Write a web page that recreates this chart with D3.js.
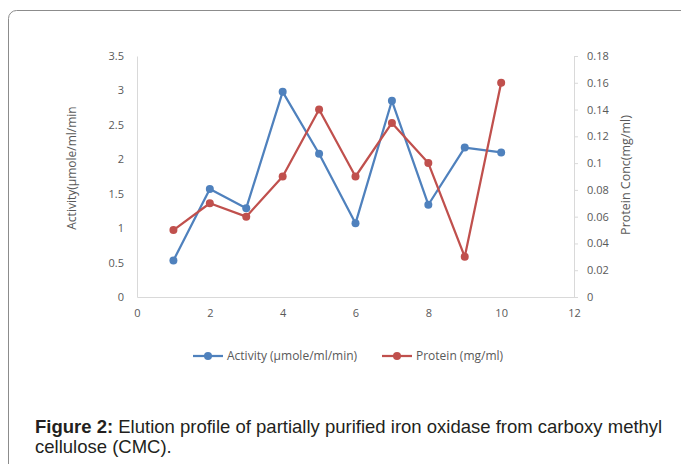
<!DOCTYPE html>
<html>
<head>
<meta charset="utf-8">
<script src="https://cdn.jsdelivr.net/npm/d3@7"></script>
<style>
  body { margin: 0; background: #fff; }
  svg { display: block; }
</style>
</head>
<body>
<svg width="681" height="464"></svg>
<script>
// fractions
const fractions = [1, 2, 3, 4, 5, 6, 7, 8, 9, 10];
const activity = [0.53, 1.57, 1.29, 2.98, 2.08, 1.07, 2.85, 1.34, 2.17, 2.10];
const protein = [0.05, 0.07, 0.06, 0.09, 0.14, 0.09, 0.13, 0.10, 0.03, 0.16];
const xTicks = [0, 2, 4, 6, 8, 10, 12];
const leftTicks = [0, 0.5, 1, 1.5, 2, 2.5, 3, 3.5];
const rightTicks = [0, 0.02, 0.04, 0.06, 0.08, 0.1, 0.12, 0.14, 0.16, 0.18];

const blue = "#4f81bd", red = "#c0504d";
const font = "'Open Sans', sans-serif";

const svg = d3.select("svg");

// frame
svg.append("rect")
    .attr("x", 8.5).attr("y", 10.5)
    .attr("width", 700).attr("height", 500)
    .attr("rx", 8)
    .attr("fill", "none")
    .attr("stroke", "#8c8c8c");

const x = d3.scaleLinear().domain([0, 12]).range([137, 574]);
const yL = d3.scaleLinear().domain([0, 3.5]).range([297, 56]);
const yR = d3.scaleLinear().domain([0, 0.18]).range([297, 56]);

// left axis
const gl = svg.append("g")
    .attr("transform", `translate(${x(0)},0)`)
    .call(d3.axisLeft(yL).tickValues(leftTicks).tickSize(0).tickPadding(13).tickFormat(d3.format("")));
// right axis
const gr = svg.append("g")
    .attr("transform", `translate(${x(12)},0)`)
    .call(d3.axisRight(yR).tickValues(rightTicks).tickSize(4).tickPadding(9).tickFormat(d3.format("")));
// bottom axis
const gb = svg.append("g")
    .attr("transform", `translate(0,${yL(0)})`)
    .call(d3.axisBottom(x).tickValues(xTicks).tickSize(0).tickPadding(12));

for (const g of [gl, gr, gb]) {
  g.select(".domain").attr("stroke", "#d9d9d9").attr("stroke-width", 1);
  g.selectAll(".tick line").attr("stroke", "#d9d9d9");
  g.selectAll("text").attr("fill", "#595959").attr("font-family", font).attr("font-size", 11);
}

// axis titles
svg.append("text")
    .attr("transform", "translate(76,168) rotate(-90)")
    .attr("text-anchor", "middle")
    .attr("font-family", font).attr("font-size", 12).attr("fill", "#595959")
    .text("Activity(µmole/ml/min");
svg.append("text")
    .attr("transform", "translate(630,175) rotate(-90)")
    .attr("text-anchor", "middle")
    .attr("font-family", font).attr("font-size", 12.5).attr("fill", "#595959")
    .text("Protein Conc(mg/ml)");

// series
const series = [
  { name: "Activity (µmole/ml/min)", values: activity, y: yL, color: blue },
  { name: "Protein (mg/ml)", values: protein, y: yR, color: red }
];

for (const s of series) {
  const pts = fractions.map((f, i) => [x(f), s.y(s.values[i])]);
  svg.append("path")
      .attr("d", d3.line()(pts))
      .attr("fill", "none")
      .attr("stroke", s.color)
      .attr("stroke-width", 2.25)
      .attr("stroke-linejoin", "round");
  svg.append("g").selectAll("circle")
    .data(pts)
    .join("circle")
      .attr("cx", d => d[0])
      .attr("cy", d => d[1])
      .attr("r", 4)
      .attr("fill", s.color);
}

// legend
const legend = svg.append("g").selectAll("g")
  .data(series)
  .join("g")
    .attr("transform", (d, i) => `translate(${[193, 382][i]},356)`);
legend.append("line")
    .attr("x1", 0).attr("x2", 30)
    .attr("stroke", d => d.color).attr("stroke-width", 2.25);
legend.append("circle")
    .attr("cx", 15).attr("r", 4).attr("fill", d => d.color);
legend.append("text")
    .attr("x", 34).attr("dy", "0.35em")
    .attr("font-family", font).attr("font-size", 12).attr("fill", "#595959")
    .text(d => d.name);

// caption
const capFont = "'Liberation Sans', Arial, sans-serif";
const cap = svg.append("text")
    .attr("font-family", capFont)
    .attr("font-size", 18.5)
    .attr("fill", "#231f20");
cap.append("tspan").attr("x", 35).attr("y", 433)
    .attr("font-weight", "bold").text("Figure 2:");
cap.append("tspan").text(" Elution profile of partially purified iron oxidase from carboxy methyl");
svg.append("text")
    .attr("x", 35).attr("y", 453)
    .attr("font-family", capFont)
    .attr("font-size", 18.5)
    .attr("fill", "#231f20")
    .text("cellulose (CMC).");
</script>
</body>
</html>
